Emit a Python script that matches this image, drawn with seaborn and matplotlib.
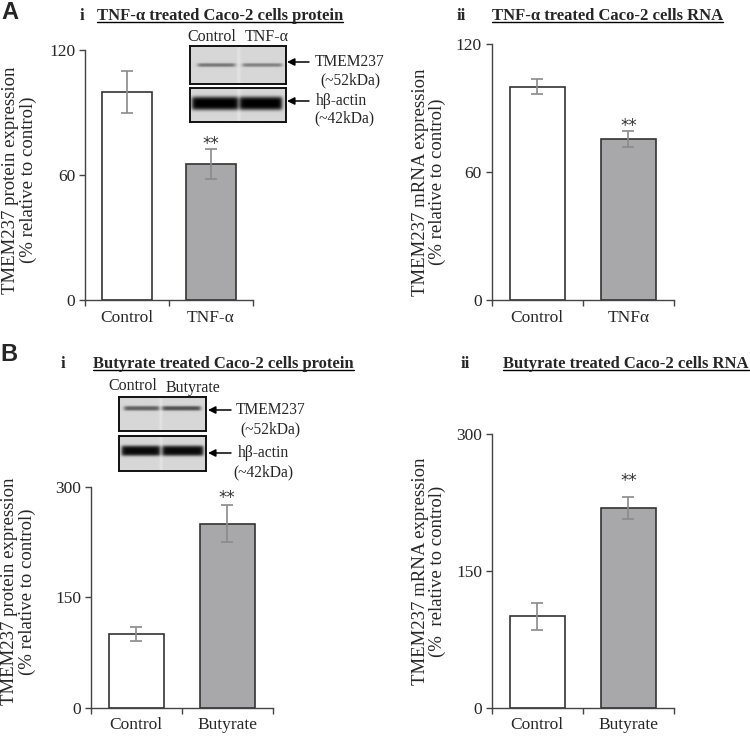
import numpy as np
import pandas as pd
import matplotlib
matplotlib.use("Agg")
import matplotlib.pyplot as plt
import seaborn as sns
from matplotlib.lines import Line2D

# ---------------- data ----------------
a1_cats = ["Control", "TNF-α"]
a1_vals = [100.0, 65.3]
a1_errs = [10.0, 7.3]

a2_cats = ["Control", "TNFα"]
a2_vals = [100.0, 75.3]
a2_errs = [3.5, 3.8]

b1_cats = ["Control", "Butyrate"]
b1_vals = [100.0, 250.0]
b1_errs = [10.0, 25.0]

b2_cats = ["Control", "Butyrate"]
b2_vals = [100.0, 219.0]
b2_errs = [15.0, 12.0]

a_ticks = [0, 60, 120]
b_ticks = [0, 150, 300]

# western blot band darkness per lane
a_blot_tmem = [0.45, 0.40]
a_blot_actin = [1.0, 1.0]
b_blot_tmem = [0.55, 0.62]
b_blot_actin = [0.95, 0.95]

# ---------------- style ----------------
sns.set_theme(style="white")
plt.rcParams["font.family"] = ["Liberation Serif", "DejaVu Serif"]

W, H = 750, 738
fig = plt.figure(figsize=(W / 100, H / 100), dpi=100)
fig.patch.set_facecolor("white")

BAR_GREY = "#a7a8ab"
EDGE = "#333333"
ERR = "#8a8a8a"


def fx(x):
    return x / W


def fy(y):
    return 1 - y / H


def make_axes(left, right, top, bottom):
    return fig.add_axes([fx(left), fy(bottom), fx(right) - fx(left), (bottom - top) / H])


def bar_panel(ax, cats, vals, errs, ticks, ylabel, lab_x, lab_y, star_gap):
    df = pd.DataFrame({"cat": cats, "val": vals})
    sns.barplot(data=df, x="cat", y="val", hue="cat", palette=["white", BAR_GREY],
                edgecolor=EDGE, linewidth=1.2, width=0.6, errorbar=None,
                legend=False, ax=ax)
    ax.errorbar(np.arange(len(vals)), vals, yerr=errs, fmt="none", ecolor=ERR,
                elinewidth=1.2, capsize=4, capthick=1.2, zorder=5)
    ax.set_xlim(-0.5, 1.5)
    ax.set_ylim(0, ticks[-1])
    ax.set_yticks(ticks)
    ax.set_yticklabels([str(t) for t in ticks])
    for s in ["top", "right"]:
        ax.spines[s].set_visible(False)
    for s in ["left", "bottom"]:
        ax.spines[s].set_color("#444444")
        ax.spines[s].set_linewidth(1.0)
    ax.tick_params(axis="y", direction="out", length=4, width=1, color="#444444",
                   labelsize=12.5, pad=3, left=True)
    ax.tick_params(axis="x", which="major", length=0, labelsize=12.5, pad=7)
    ax.set_xticks([-0.5, 0.5, 1.5], minor=True)
    ax.tick_params(axis="x", which="minor", direction="out", length=4, width=1,
                   color="#444444", bottom=True)
    ax.set_xlabel("")
    ax.set_ylabel(ylabel, fontsize=13.5, linespacing=1.05)
    ax.yaxis.label.set_va("center")
    ax.yaxis.set_label_coords(lab_x, lab_y)
    ax.set_facecolor("white")
    # significance stars
    ax.annotate("**", xy=(1, vals[1] + errs[1]), xytext=(0, star_gap - 4),
                textcoords="offset pixels", ha="center", va="center", fontsize=12,
                color="#333333", family=["DejaVu Sans"], annotation_clip=False)


# ---------------- bar panels ----------------
axA1 = make_axes(85, 253, 50, 300)
bar_panel(axA1, a1_cats, a1_vals, a1_errs, a_ticks,
          "TMEM237 protein expression\n(% relative to control)", -0.39, 0.48, 9)

axA2 = make_axes(491.7, 674, 44, 300)
bar_panel(axA2, a2_cats, a2_vals, a2_errs, a_ticks,
          "TMEM237 mRNA expression\n(% relative to control)", -0.344, 0.46, 9)

axB1 = make_axes(90.7, 272.7, 486.7, 707.7)
bar_panel(axB1, b1_cats, b1_vals, b1_errs, b_ticks,
          "TMEM237 protein expression\n(% relative to control)", -0.397, 0.525, 11)

axB2 = make_axes(491.7, 674, 434, 707.7)
bar_panel(axB2, b2_cats, b2_vals, b2_errs, b_ticks,
          "TMEM237 mRNA expression\n(%  relative to control)", -0.344, 0.498, 20)


# ---------------- blots ----------------
def blot(left, right, top, bottom, lanes, strengths, yc, hh, bg=0.84, sharp=3):
    ax = make_axes(left, right, top, bottom)
    ny, nx = 80, 160
    yy, xx = np.mgrid[0:1:ny * 1j, 0:1:nx * 1j]
    img = np.full((ny, nx), bg)
    # faint lighter separation between lanes
    mid = 0.5 * (lanes[0][1] + lanes[1][0])
    img += 0.05 * np.exp(-((xx - mid) / 0.02) ** 2)
    for (x0, x1), s in zip(lanes, strengths):
        ex = 1 / (1 + np.exp(-(xx - x0) / 0.012)) * 1 / (1 + np.exp((xx - x1) / 0.012))
        ey = np.exp(-np.abs((yy - yc) / hh) ** sharp)
        img -= s * bg * ex * ey
    img = np.clip(img, 0, 1)
    ax.imshow(img, cmap="gray", vmin=0, vmax=1, aspect="auto", extent=(0, 1, 1, 0),
              interpolation="bilinear")
    ax.set_xticks([])
    ax.set_yticks([])
    for s in ax.spines.values():
        s.set_visible(True)
        s.set_color("#111111")
        s.set_linewidth(1.4)
    return ax


blot(190, 286, 46, 84, [(0.08, 0.47), (0.55, 0.96)], a_blot_tmem, 0.5, 0.05)
blot(190, 286, 88, 122, [(0.02, 0.50), (0.52, 0.96)], a_blot_actin, 0.45, 0.2, sharp=4)
blot(119, 206, 397, 431, [(0.06, 0.46), (0.50, 0.94)], b_blot_tmem, 0.33, 0.07)
blot(119, 206, 436, 471, [(0.03, 0.47), (0.50, 0.97)], b_blot_actin, 0.42, 0.15, sharp=4)


def T(x, y, s, ha="center", va="center", size=11, **kw):
    return fig.text(fx(x), fy(y), s, ha=ha, va=va, fontsize=size, **kw)


def arrow(x_tip, x_tail, y):
    axA1.annotate("", xy=(x_tip, H - y), xytext=(x_tail, H - y),
                  xycoords="figure pixels", textcoords="figure pixels",
                  arrowprops=dict(arrowstyle="-|>", color="black", lw=1.1,
                                  mutation_scale=11, shrinkA=0, shrinkB=0),
                  annotation_clip=False)


# blot labels A
T(212, 37, "Control", size=11.5)
T(267, 37, "TNF-α", size=11.5)
arrow(287, 309, 62)
T(349.5, 62, "TMEM237", size=11.2)
T(350, 80, "(~52kDa)", size=11.2)
arrow(287, 309, 101)
T(341.5, 101, "hβ-actin", size=11.2)
T(344.5, 118, "(~42kDa)", size=11.2)

# blot labels B
T(133, 386, "Control", size=11.5)
T(193, 388, "Butyrate", size=11.5)
arrow(208, 231, 410)
T(271, 410, "TMEM237", size=11.2)
T(270, 429, "(~52kDa)", size=11.2)
arrow(208, 231, 453)
T(263, 453, "hβ-actin", size=11.2)
T(263, 472, "(~42kDa)", size=11.2)

# panel letters
T(10, 1, "A", va="top", size=17, weight="bold", family=["Liberation Sans", "DejaVu Sans"])
T(9, 343, "B", va="top", size=17, weight="bold", family=["Liberation Sans", "DejaVu Sans"])

# titles
titles = []
T(82, 19.5, "i", va="baseline", size=12, weight="bold")
titles.append(T(97, 19.5, "TNF-α treated Caco-2 cells protein", ha="left", va="baseline",
                size=12, weight="bold"))
T(461, 19.5, "ii", va="baseline", size=12, weight="bold")
titles.append(T(492, 19.5, "TNF-α treated Caco-2 cells RNA", ha="left", va="baseline",
                size=12, weight="bold"))
T(63, 367.5, "i", va="baseline", size=12, weight="bold")
titles.append(T(93, 367.5, "Butyrate treated Caco-2 cells protein", ha="left", va="baseline",
                size=12, weight="bold"))
T(465, 367.5, "ii", va="baseline", size=12, weight="bold")
titles.append(T(503, 367.5, "Butyrate treated Caco-2 cells RNA", ha="left", va="baseline",
                size=12, weight="bold"))

fig.canvas.draw()
inv = fig.transFigure.inverted()
for t in titles:
    bb = t.get_window_extent()
    ybase = t.get_position()[1]
    yline = ybase - 2.8 / H
    x0 = inv.transform((bb.x0, 0))[0]
    x1 = inv.transform((bb.x1, 0))[0]
    fig.add_artist(Line2D([x0, x1], [yline, yline], transform=fig.transFigure,
                          color="black", lw=1.0))

fig.savefig("out.png", dpi=100, facecolor="white")
